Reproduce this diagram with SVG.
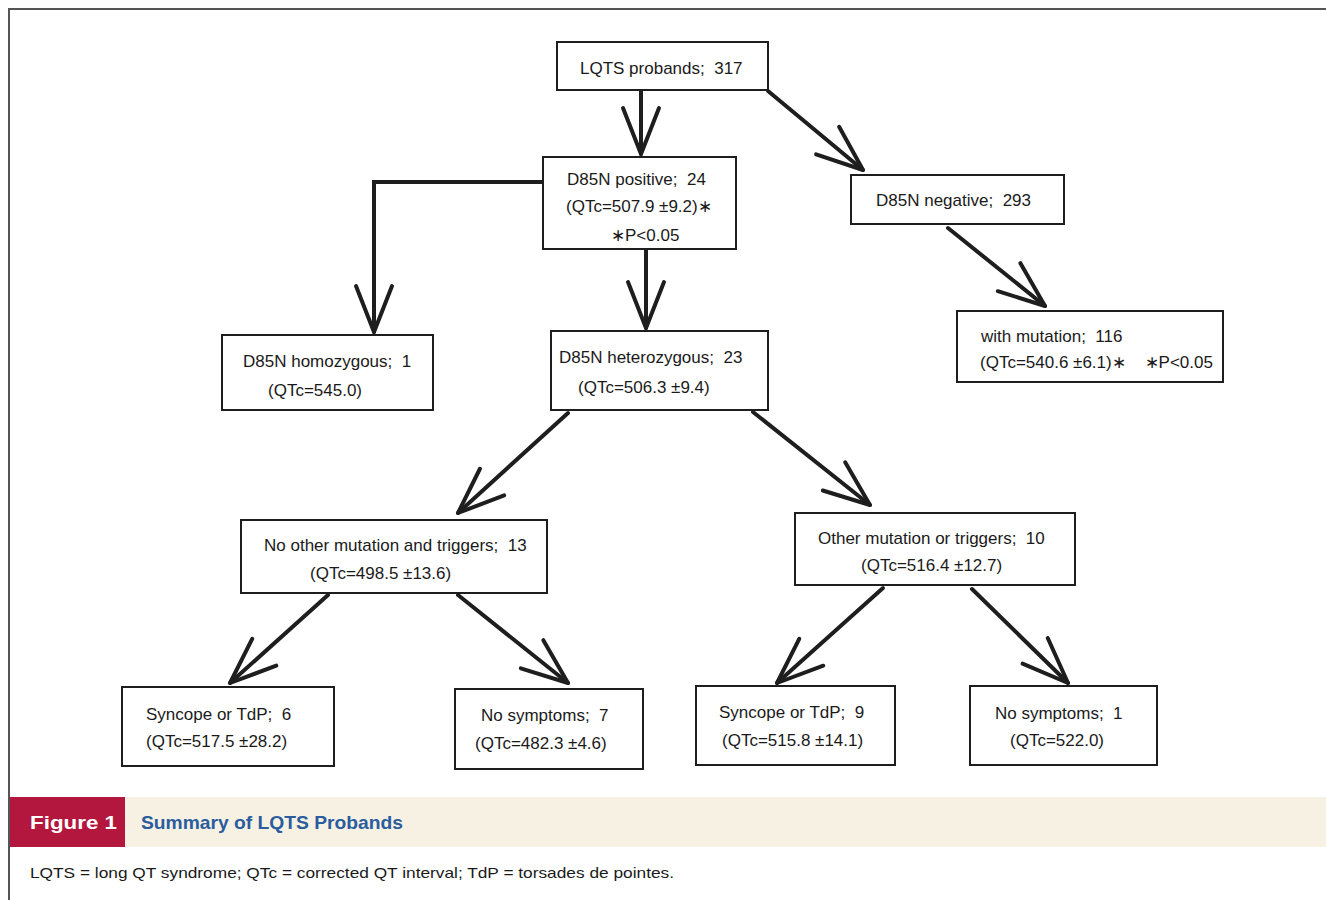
<svg xmlns="http://www.w3.org/2000/svg" width="1326" height="900" viewBox="0 0 1326 900">
<style>
.box{fill:#fff;stroke:#1e1e1e;stroke-width:2}
.t{font-family:"Liberation Sans",Arial,sans-serif;font-size:17px;fill:#1a1a1a;white-space:pre}
.c{fill:none;stroke:#1e1e1e;stroke-width:4;stroke-linecap:round;stroke-linejoin:miter;marker-end:url(#vee)}
</style>
<defs>
<marker id="vee" markerUnits="userSpaceOnUse" orient="auto" refX="0" refY="0" markerWidth="60" markerHeight="60" overflow="visible">
<path d="M-46 -18 L0 0 L-46 18" fill="none" stroke="#1e1e1e" stroke-width="4" stroke-linecap="round" stroke-linejoin="round"/>
</marker>
</defs>
<rect x="0" y="0" width="1326" height="900" fill="#fff"/>
<path d="M9 900 V9 H1326" fill="none" stroke="#555" stroke-width="2"/>

<g id="connectors">
<path class="c" d="M641 91 L641 154"/>
<path class="c" d="M768 91 L863 170"/>
<path class="c" d="M543 182 L374 182 L374 332"/>
<path class="c" d="M646 250 L646 328"/>
<path class="c" d="M948 228 L1045 306"/>
<path class="c" d="M568 413 L458 513"/>
<path class="c" d="M753 412 L870 505"/>
<path class="c" d="M328 595 L230 683"/>
<path class="c" d="M458 595 L568 683"/>
<path class="c" d="M883 588 L777 683"/>
<path class="c" d="M972 589 L1068 683"/>
</g>

<g id="n-lqts">
<rect class="box" x="557" y="42" width="211" height="48"/>
<text class="t" x="580" y="74" xml:space="preserve">LQTS probands;  317</text>
</g>
<g id="n-pos">
<rect class="box" x="543" y="157" width="193" height="92"/>
<text class="t" x="567" y="185" xml:space="preserve">D85N positive;  24</text>
<text class="t" x="566" y="212">(QTc=507.9 ±9.2)∗</text>
<text class="t" x="611" y="241">∗P&lt;0.05</text>
</g>
<g id="n-neg">
<rect class="box" x="851" y="175" width="213" height="49"/>
<text class="t" x="876" y="206" xml:space="preserve">D85N negative;  293</text>
</g>
<g id="n-homo">
<rect class="box" x="222" y="335" width="211" height="75"/>
<text class="t" x="243" y="367" xml:space="preserve">D85N homozygous;  1</text>
<text class="t" x="268" y="396">(QTc=545.0)</text>
</g>
<g id="n-het">
<rect class="box" x="551" y="331" width="217" height="79"/>
<text class="t" x="559" y="363" xml:space="preserve">D85N heterozygous;  23</text>
<text class="t" x="578" y="393">(QTc=506.3 ±9.4)</text>
</g>
<g id="n-mut">
<rect class="box" x="957" y="311" width="266" height="71"/>
<text class="t" x="981" y="342" xml:space="preserve">with mutation;  116</text>
<text class="t" x="980" y="368" xml:space="preserve">(QTc=540.6 ±6.1)∗    ∗P&lt;0.05</text>
</g>
<g id="n-noother">
<rect class="box" x="241" y="520" width="306" height="73"/>
<text class="t" x="264" y="551" xml:space="preserve">No other mutation and triggers;  13</text>
<text class="t" x="310" y="579">(QTc=498.5 ±13.6)</text>
</g>
<g id="n-other">
<rect class="box" x="795" y="513" width="280" height="72"/>
<text class="t" x="818" y="544" xml:space="preserve">Other mutation or triggers;  10</text>
<text class="t" x="861" y="571">(QTc=516.4 ±12.7)</text>
</g>
<g id="n-sync6">
<rect class="box" x="122" y="687" width="212" height="79"/>
<text class="t" x="146" y="720" xml:space="preserve">Syncope or TdP;  6</text>
<text class="t" x="146" y="747">(QTc=517.5 ±28.2)</text>
</g>
<g id="n-nosym7">
<rect class="box" x="455" y="689" width="188" height="80"/>
<text class="t" x="481" y="721" xml:space="preserve">No symptoms;  7</text>
<text class="t" x="475" y="749">(QTc=482.3 ±4.6)</text>
</g>
<g id="n-sync9">
<rect class="box" x="696" y="686" width="199" height="79"/>
<text class="t" x="719" y="718" xml:space="preserve">Syncope or TdP;  9</text>
<text class="t" x="722" y="746">(QTc=515.8 ±14.1)</text>
</g>
<g id="n-nosym1">
<rect class="box" x="970" y="686" width="187" height="79"/>
<text class="t" x="995" y="719" xml:space="preserve">No symptoms;  1</text>
<text class="t" x="1010" y="746">(QTc=522.0)</text>
</g>

<g id="caption">
<rect x="125" y="797" width="1201" height="50" fill="#f7f1e3"/>
<rect x="10" y="797" width="115" height="50" fill="#b3173d"/>
<text x="30" y="829" font-family="'Liberation Sans',Arial,sans-serif" font-size="19" font-weight="bold" fill="#fff" textLength="87" lengthAdjust="spacingAndGlyphs">Figure 1</text>
<text x="141" y="829" font-family="'Liberation Sans',Arial,sans-serif" font-size="19" font-weight="bold" fill="#2a5c9e" textLength="262" lengthAdjust="spacingAndGlyphs">Summary of LQTS Probands</text>
<text x="30" y="878" font-family="'Liberation Sans',Arial,sans-serif" font-size="15" fill="#1a1a1a" textLength="644" lengthAdjust="spacingAndGlyphs">LQTS = long QT syndrome; QTc = corrected QT interval; TdP = torsades de pointes.</text>
</g>
</svg>
